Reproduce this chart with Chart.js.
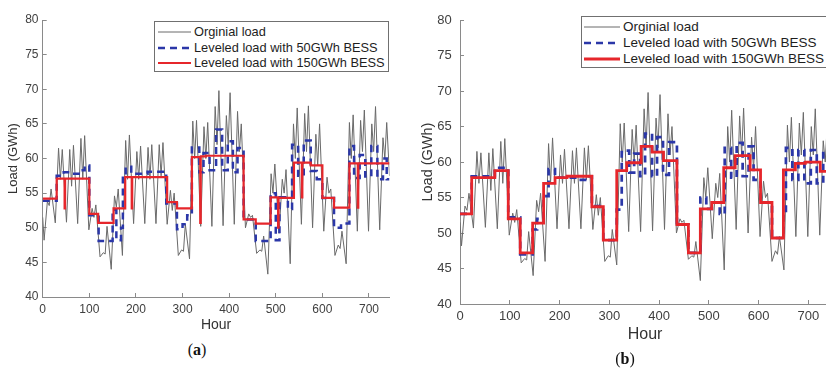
<!DOCTYPE html>
<html>
<head>
<meta charset="utf-8">
<script src="https://cdn.jsdelivr.net/npm/chart.js@4.4.0/dist/chart.umd.min.js"></script>
<style>
html, body { margin: 0; padding: 0; background: #fff; }
body { position: relative; width: 826px; height: 368px; overflow: hidden; }
canvas { position: absolute; top: 0; }
.legend { position: absolute; background: #fff; border: 1px solid #707070; box-sizing: border-box;
          font-family: "Liberation Sans", Arial, sans-serif; color: #1e1e1e; }
.legend .row { position: absolute; left: 0; height: 16px; line-height: 16px; white-space: nowrap; }
.legend svg { position: absolute; top: 0; }
.legend span { position: absolute; top: 0; }
.caption { position: absolute; font-family: "Liberation Serif", "DejaVu Serif", serif; font-size: 16px; color: #111; transform: translate(-50%, -50%); }
</style>
</head>
<body>
<canvas id="chartA" width="400" height="340" style="left:0px"></canvas>
<canvas id="chartB" width="430" height="368" style="left:410px"></canvas>
<div id="legendA" class="legend"></div>
<div id="legendB" class="legend"></div>
<div class="caption" style="left:197px; top:350px">(<b>a</b>)</div>
<div class="caption" style="left:625px; top:359px">(<b>b</b>)</div>

<script>
// ---- data ----
var seriesNames = ['Orginial load', 'Leveled load with 50GWh BESS', 'Leveled load with 150GWh BESS'];
var hourTicks = [0, 100, 200, 300, 400, 500, 600, 700];
var loadTicks = [40, 45, 50, 55, 60, 65, 70, 75, 80];

// original hourly load, sampled per day: night low, morning peak, midday dip, afternoon peak (GWh)
var dayLow    = [48.2, 50.7, 50.8, 50.6, 49.7, 45.8, 44.0, 46.0, 50.6, 50.6, 50.6, 50.5, 46.0, 45.5, 50.2, 50.2,
                 50.3, 50.5, 50.0, 46.3, 43.3, 49.2, 44.8, 50.5, 50.0, 49.5, 46.0, 44.8, 49.5, 49.5, 49.7];
var dayPeakAM = [53.8, 61.5, 61.3, 62.9, 52.8, 46.4, 54.6, 62.6, 61.0, 61.6, 62.0, 55.4, 46.8, 65.4, 64.6, 67.5,
                 66.2, 66.8, 52.0, 46.8, 57.8, 57.0, 65.0, 66.5, 63.5, 57.3, 47.5, 65.2, 65.5, 65.0, 63.0];
var dayDip    = [53.2, 57.0, 56.0, 57.0, 51.5, 46.2, 53.0, 57.0, 57.0, 57.0, 57.5, 52.5, 46.6, 60.0, 60.0, 62.0,
                 62.0, 61.0, 51.5, 46.6, 55.0, 55.0, 60.0, 61.0, 59.0, 55.0, 47.0, 60.0, 61.0, 61.0, 60.0];
var dayPeakPM = [55.6, 61.3, 61.9, 63.3, 53.3, 50.2, 55.6, 63.4, 61.8, 62.0, 62.3, 55.0, 50.5, 65.5, 65.2, 69.8,
                 69.5, 65.0, 51.8, 48.8, 59.2, 58.4, 67.3, 67.6, 65.0, 55.6, 49.5, 66.3, 67.0, 67.5, 65.2];
var loadStart = 51.5, loadEnd = 57.5;
var sampleHours = [3, 10, 14, 18];

// (a) leveled loads: hour where a level starts, and the level
var blueAHours = [0, 30, 45, 60, 80, 90, 100, 120, 150, 158, 168, 172, 178, 190, 225, 265, 288, 300, 310, 320, 336,
                  345, 358, 372, 385, 397, 408, 418, 431, 457, 489, 500, 508, 526, 535, 548, 560, 575, 588, 600, 625,
                  640, 658, 668, 680, 692, 705, 718, 730, 738, 744];
var blueALoad  = [53.9, 57.5, 58.0, 57.8, 58.3, 59.0, 51.8, 48.1, 52.6, 48.2, 50.0, 57.5, 58.8, 57.8, 58.1, 53.5, 49.8,
                  50.5, 51.8, 61.6, 58.0, 60.8, 58.3, 64.2, 58.3, 62.5, 58.0, 61.5, 51.2, 48.1, 55.0, 48.2, 54.4, 52.7,
                  62.0, 57.5, 62.6, 58.2, 57.0, 54.3, 50.0, 50.6, 61.8, 57.2, 60.5, 57.4, 61.8, 57.0, 60.0, 57.0, 57.0];
var redAHours  = [0, 30, 47, 48, 100, 119, 152, 177, 191, 192, 267, 288, 320, 338, 339, 350, 431, 457, 489, 505, 506,
                  539, 556, 557, 575, 600, 625, 658, 676, 677, 744];
var redALoad   = [54.2, 57.1, 52.8, 57.1, 52.0, 50.7, 52.8, 57.3, 52.8, 57.3, 53.7, 52.8, 60.2, 50.7, 60.3, 60.4, 51.2,
                  50.6, 54.4, 50.0, 54.3, 59.4, 54.4, 59.4, 59.0, 54.3, 52.9, 59.3, 52.9, 59.3, 59.3];

// (b) leveled loads
var blueBHours = [0, 23.5, 70, 97, 121, 146, 155, 168, 178, 191, 240, 255, 265, 288, 315, 325, 340, 350, 362, 372, 386,
                  396, 408, 420, 436, 459, 483, 495, 506, 522, 532, 545, 556, 568, 580, 590, 604, 627, 650, 655, 668,
                  680, 692, 705, 717, 730, 740, 744];
var blueBLoad  = [52.7, 58.0, 59.2, 52.2, 47.0, 50.5, 52.0, 55.2, 59.0, 57.8, 57.5, 58.0, 53.8, 49.0, 53.3, 61.6, 58.5,
                  61.2, 58.0, 64.0, 58.0, 63.5, 58.2, 62.8, 51.2, 47.2, 55.0, 53.4, 54.3, 52.7, 62.0, 57.8, 62.7, 58.0,
                  62.2, 57.5, 54.3, 49.3, 52.7, 62.0, 57.5, 61.7, 57.0, 61.7, 57.0, 61.5, 57.0, 57.0];
var redBHours  = [0, 23.5, 70, 97, 121, 146, 168, 191, 215, 265, 288, 315, 335, 364, 386, 409, 436, 459, 483, 506, 530,
                  553, 583, 604, 627, 650, 674, 694, 724, 744];
var redBLoad   = [52.7, 57.8, 58.8, 52.0, 47.2, 51.4, 57.0, 57.8, 58.0, 53.7, 49.0, 58.8, 59.9, 62.2, 61.4, 60.2, 51.2,
                  47.2, 53.4, 54.3, 59.2, 60.9, 58.9, 54.3, 49.3, 58.9, 59.8, 60.0, 58.7, 58.7];

var grayCol = '#6a6a6a', blueCol = '#2b37a8', redCol = '#e6262b';

function origPoints() {
    var pts = [{x: 0, y: loadStart}];
    var cols = [dayLow, dayPeakAM, dayDip, dayPeakPM];
    for (var d = 0; d < dayLow.length; d++) {
        for (var k = 0; k < 4; k++) {
            pts.push({x: d * 24 + sampleHours[k], y: cols[k][d]});
        }
    }
    pts.push({x: 744, y: loadEnd});
    return pts;
}

function steps(hours, vals) {
    return hours.map(function (h, i) { return {x: h, y: vals[i]}; });
}

function drawPanel(canvasId, p, blue, red) {
    var ctx = document.getElementById(canvasId).getContext('2d');
    var font = "'Liberation Sans', Arial, sans-serif";
    return new Chart(ctx, {
        type: 'line',
        data: {
            datasets: [
                {label: seriesNames[0], data: origPoints(), borderColor: grayCol, borderWidth: 1,
                 pointRadius: 0, order: 3},
                {label: seriesNames[1], data: blue, borderColor: blueCol, borderWidth: p.blueW,
                 borderDash: [7, 5], stepped: 'before', pointRadius: 0, order: 2},
                {label: seriesNames[2], data: red, borderColor: redCol, borderWidth: p.redW,
                 stepped: 'before', pointRadius: 0, order: 1}
            ]
        },
        options: {
            responsive: false,
            animation: false,
            devicePixelRatio: 1,
            layout: {padding: p.pad},
            plugins: {legend: {display: false}, tooltip: {enabled: false}},
            scales: {
                x: {
                    type: 'linear', min: 0, max: 744,
                    afterBuildTicks: function (s) { s.ticks = hourTicks.map(function (v) { return {value: v}; }); },
                    afterFit: function (s) { s.height = p.xH; },
                    grid: {drawOnChartArea: false, tickLength: -4, color: '#8a8a8a'},
                    border: {color: '#8a8a8a', width: 1},
                    ticks: {padding: p.xTickPad, color: '#404040', font: {family: font, size: p.tickSize}},
                    title: {display: true, text: 'Hour', color: '#333', padding: {top: 0, bottom: p.xTitlePad},
                            font: {family: font, size: p.xTitleSize}}
                },
                y: {
                    min: 40, max: 80,
                    afterBuildTicks: function (s) { s.ticks = loadTicks.map(function (v) { return {value: v}; }); },
                    afterFit: function (s) { s.width = p.yW; },
                    grid: {drawOnChartArea: false, tickLength: -4, color: '#8a8a8a'},
                    border: {color: '#8a8a8a', width: 1},
                    ticks: {padding: p.yTickPad, color: '#404040', font: {family: font, size: p.tickSize}},
                    title: {display: true, text: 'Load (GWh)', color: '#333', padding: {top: p.yTitlePad, bottom: 0},
                            font: {family: font, size: p.yTitleSize}}
                }
            }
        }
    });
}

function buildLegend(id, box) {
    var el = document.getElementById(id);
    el.style.left = box.left + 'px';
    el.style.top = box.top + 'px';
    el.style.width = box.w + 'px';
    el.style.height = box.h + 'px';
    el.style.fontSize = box.fontSize + 'px';
    var styles = [
        {color: grayCol, width: 1, dash: ''},
        {color: blueCol, width: box.blueW, dash: '7,5'},
        {color: redCol, width: box.redW, dash: ''}
    ];
    seriesNames.forEach(function (name, i) {
        var row = document.createElement('div');
        row.className = 'row';
        row.style.top = (box.rows[i] - 8) + 'px';
        row.style.width = '100%';
        var len = box.lineEnd - box.lineStart;
        row.innerHTML = '<svg width="' + (box.lineEnd + 2) + '" height="16">' +
            '<line x1="' + box.lineStart + '" y1="8" x2="' + box.lineEnd + '" y2="8" stroke="' + styles[i].color +
            '" stroke-width="' + styles[i].width + '"' + (styles[i].dash ? ' stroke-dasharray="' + styles[i].dash + '"' : '') +
            '/></svg><span style="left:' + box.textLeft + 'px">' + name + '</span>';
        el.appendChild(row);
    });
}

drawPanel('chartA', {
    pad: {left: 0, top: 20, right: 10.5, bottom: 5},
    yW: 42.7, xH: 38, tickSize: 12, xTitleSize: 14, yTitleSize: 13,
    xTickPad: 9, yTickPad: 8.2, xTitlePad: 1.3, yTitlePad: 5.2,
    blueW: 2.5, redW: 2.2
}, steps(blueAHours, blueALoad), steps(redAHours, redALoad));

drawPanel('chartB', {
    pad: {left: 0, top: 12.7, right: 9.8, bottom: 19},
    yW: 50, xH: 45, tickSize: 13, xTitleSize: 16, yTitleSize: 14.5,
    xTickPad: 8.9, yTickPad: 12.3, xTitlePad: 5.1, yTitlePad: 9.6,
    blueW: 2.7, redW: 2.8
}, steps(blueBHours, blueBLoad), steps(redBHours, redBLoad));

buildLegend('legendA', {left: 154, top: 21, w: 235, h: 51, fontSize: 12.8, rows: [10, 26, 41],
    lineStart: 3, lineEnd: 36, textLeft: 39, blueW: 2.5, redW: 2.2});
buildLegend('legendB', {left: 581, top: 16, w: 270, h: 52, fontSize: 13.5, rows: [10, 26, 42],
    lineStart: 2, lineEnd: 38, textLeft: 41, blueW: 2.7, redW: 2.8});
</script>
</body>
</html>
